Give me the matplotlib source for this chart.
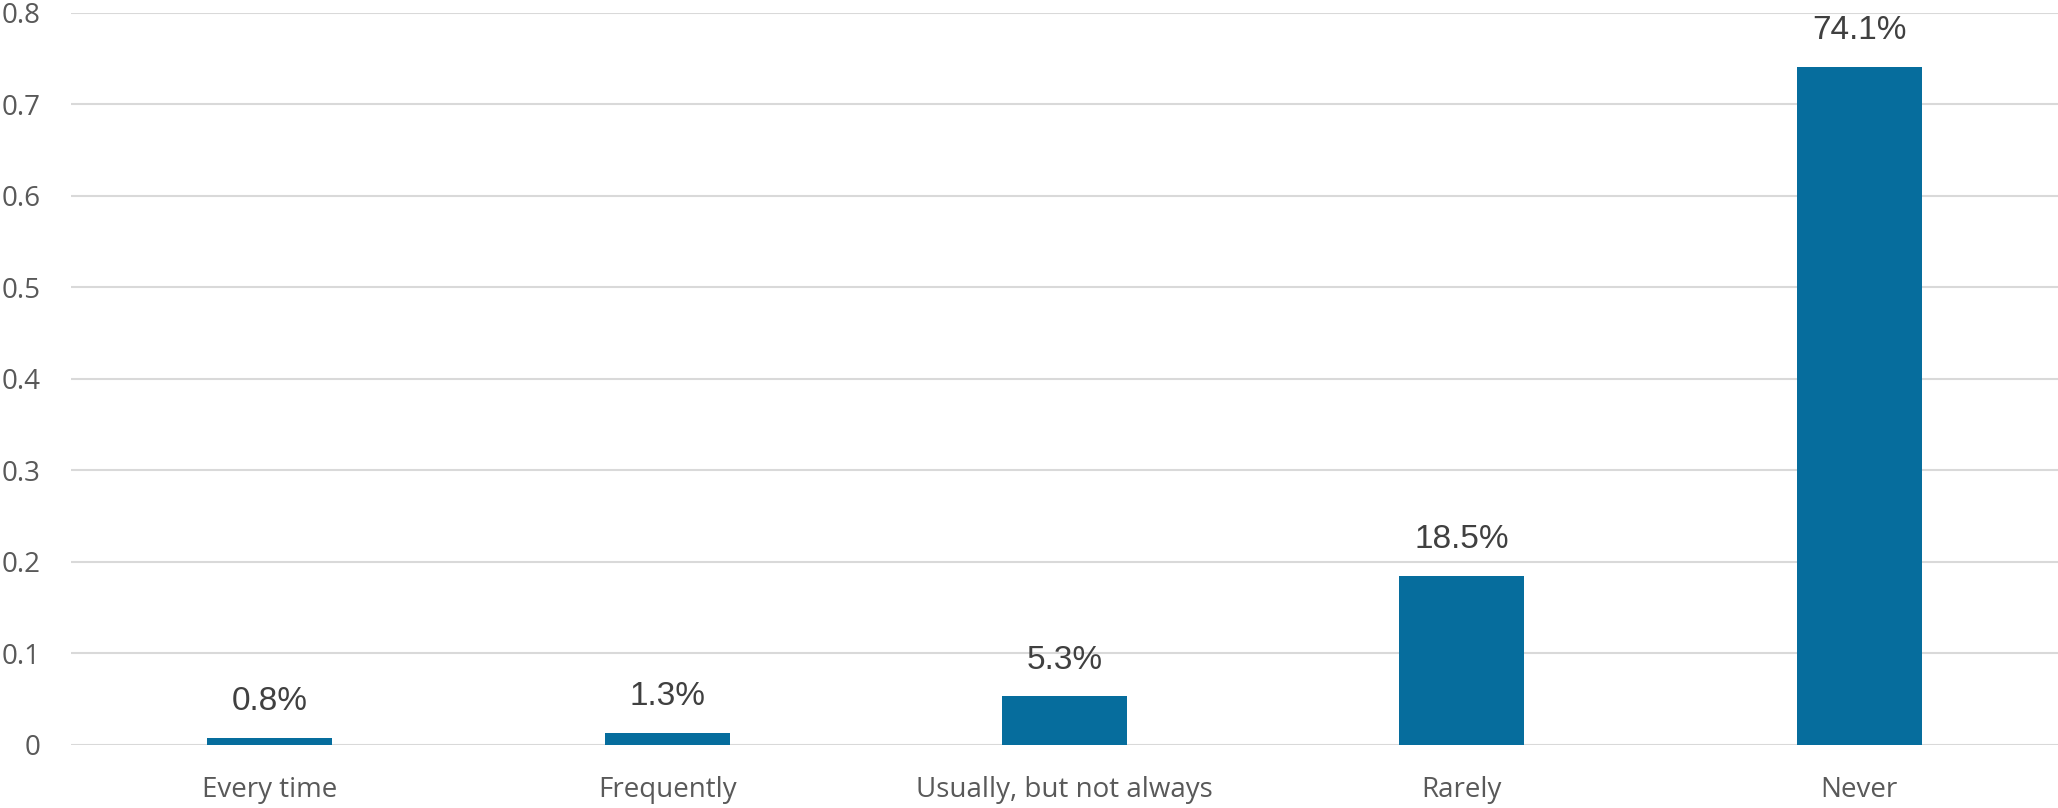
import matplotlib.pyplot as plt

# Survey answers and their shares
categories = ['Every time', 'Frequently', 'Usually, but not always', 'Rarely', 'Never']
shares = [0.008, 0.013, 0.053, 0.185, 0.741]
labels = ['0.8%', '1.3%', '5.3%', '18.5%', '74.1%']

fig = plt.figure(figsize=(20.58, 8.08), dpi=100)
ax = fig.add_axes([0.0345, 0.078, 0.9655, 0.906])

x = range(len(categories))
bars = ax.bar(x, shares, width=0.315, color='#066d9d', zorder=3)

# Data labels above each bar
for bar, lab in zip(bars, labels):
    ax.annotate(lab, (bar.get_x() + bar.get_width() / 2, bar.get_height()),
                xytext=(0, 15), textcoords='offset points', ha='center', va='bottom',
                fontsize=24, color='#404040', family='Liberation Sans')

ax.set_xlim(-0.5, len(categories) - 0.5)
ax.set_ylim(0, 0.8)
ax.set_yticks([0, 0.1, 0.2, 0.3, 0.4, 0.5, 0.6, 0.7, 0.8])
ax.set_yticklabels(['0', '0.1', '0.2', '0.3', '0.4', '0.5', '0.6', '0.7', '0.8'])
ax.set_xticks(list(x))
ax.set_xticklabels(categories)

ax.grid(axis='y', color='#d9d9d9', linewidth=1.5, zorder=0)
for s in ax.spines.values():
    s.set_visible(False)
ax.tick_params(length=0, labelsize=20, labelcolor='#595959')
ax.tick_params(axis='y', pad=22)
ax.tick_params(axis='x', pad=22)
for t in ax.get_xticklabels() + ax.get_yticklabels():
    t.set_family('Open Sans')

fig.savefig('out.png', dpi=100)
